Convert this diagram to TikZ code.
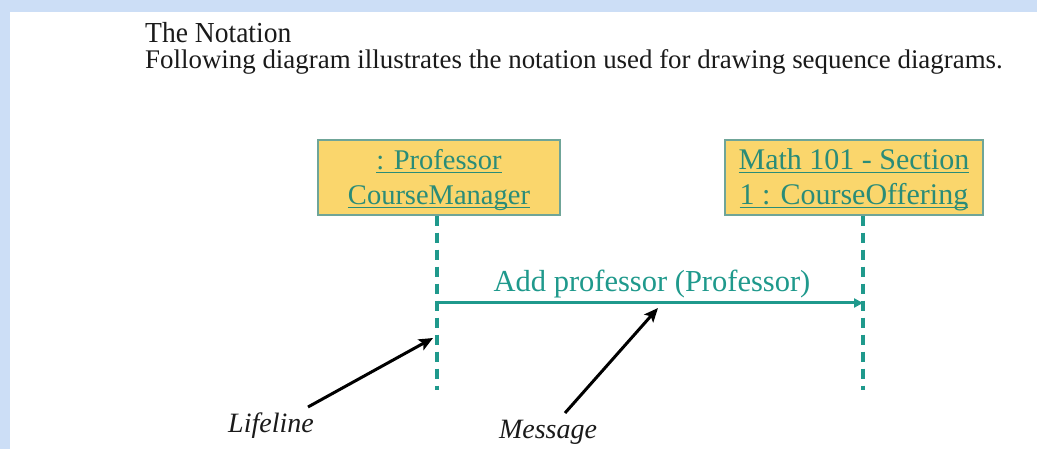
\documentclass[tikz,border=0pt]{standalone}
\usepackage{fontspec}
\setmainfont{Liberation Serif}
\usetikzlibrary{arrows.meta}
\definecolor{bandblue}{HTML}{CCDEF6}
\definecolor{boxfill}{HTML}{FAD66C}
\definecolor{boxline}{HTML}{6FA598}
\definecolor{tealtext}{HTML}{2A8C78}
\definecolor{tealline}{HTML}{1F998C}
\definecolor{inktext}{HTML}{1A1A1A}
\newcommand\ulbox[1]{\setbox0\hbox{#1}\rlap{\rule[-3.5pt]{\wd0}{1.3pt}}\box0}
\tikzset{
  objbox/.style={draw=boxline, line width=1.2pt, fill=boxfill, inner sep=0pt,
    text=tealtext, align=center, font=\fontsize{30}{35}\selectfont,
    minimum height=75pt},
  lifeline/.style={draw=tealline, line width=3.5pt, dash pattern=on 10pt off 7pt},
  msgline/.style={draw=tealline, line width=3pt, -{Triangle[length=9pt,width=9pt]}},
  pointer/.style={draw=black, line width=3pt, -{Stealth[length=14pt,width=12pt,inset=3pt]}},
  note/.style={anchor=base, inner sep=0pt, font=\fontsize{28}{33}\selectfont\itshape, text=inktext},
  head/.style={anchor=base west, inner sep=0pt, text=inktext}
}
\begin{document}
\begin{tikzpicture}[x=1pt,y=-1pt]
\useasboundingbox (0,0) rectangle (1037,449);
\fill[bandblue] (0,0) rectangle (1037,449);
\fill[white] (10,12) rectangle (1037,449);

\node[head, font=\fontsize{29}{32}\selectfont] (title) at (145,43) {\scalebox{0.95}[1]{The Notation}};
\node[head, font=\fontsize{26.9}{30}\selectfont] (sub) at (145,69) {Following diagram illustrates the notation used for drawing sequence diagrams.};

\node[objbox, minimum width=242pt, font=\fontsize{28.5}{35}\selectfont] (box1) at (439,177.5)
  {\rule{0pt}{30pt}\ulbox{: Professor}\\\ulbox{CourseManager}\rule[-10pt]{0pt}{10pt}};
\node[objbox, minimum width=258pt] (box2) at (854,177.5)
  {\rule{0pt}{30pt}\ulbox{Math 101 - Section}\\\ulbox{1 : CourseOffering}\rule[-10pt]{0pt}{10pt}};

\coordinate (ll1) at (437,390);
\coordinate (ll2) at (863,390);
\draw[lifeline] (ll1 |- box1.south) -- (ll1);
\draw[lifeline] (ll2 |- box2.south) -- (ll2);

\coordinate (m1) at (437,303);
\coordinate (m2) at (863,303);
\draw[msgline] (m1) -- (m2);
\node[anchor=base, inner sep=0pt, font=\fontsize{30.5}{35}\selectfont, text=tealline] (msglbl) at (652,292) {Add professor (Professor)};

\node[note] (lifelbl) at (271,432) {Lifeline};
\node[note] (msgtxt) at (548,438) {Message};
\coordinate (la) at (308,407);
\coordinate (lb) at (433,338);
\coordinate (ma) at (565,413);
\coordinate (mb) at (658,308);
\draw[pointer] (la) -- (lb);
\draw[pointer] (ma) -- (mb);
\end{tikzpicture}
\end{document}
